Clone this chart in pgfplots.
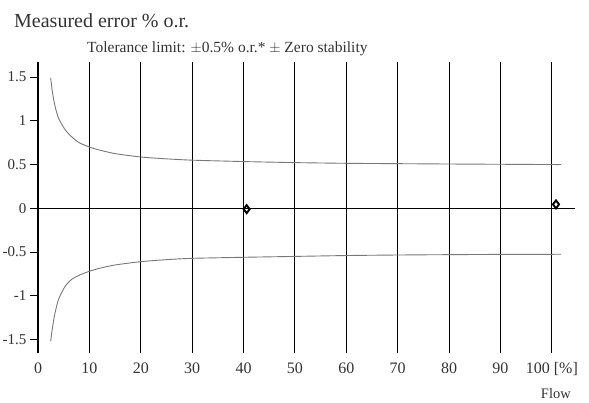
\documentclass[border=0pt]{standalone}
\usepackage{fontspec}
\setmainfont{Liberation Serif}
\usepackage{pgfplots}
\pgfplotsset{compat=1.18}
\definecolor{curvegray}{RGB}{120,120,120}
\begin{document}
\begin{tikzpicture}
\useasboundingbox (-38bp,-50bp) rectangle (551bp,353bp);
\begin{axis}[
  at={(0,0)}, anchor=south west,
  scale only axis, width=537bp, height=291bp,
  xmin=0, xmax=104.5, ymin=-1.654, ymax=1.672,
  axis lines=left, axis line style={-, line width=1.2bp},
  x axis line style={draw=none},
  xtick={0,10,...,100},
  xticklabels={0,10,20,30,40,50,60,70,80,90,100 [\%]},
  xtick style={draw=none},
  xmajorgrids, major grid style={black, line width=1bp},
  ytick={-1.5,-1,-0.5,0,0.5,1,1.5},
  yticklabels={-1.5,-1,-0.5,0,0.5,1,1.5},
  ytick style={black, line width=1bp},
  tick align=outside, major tick length=8bp,
  tick label style={font=\fontsize{15bp}{18bp}\selectfont, text=black!80},
  x tick label style={anchor=north, yshift=2bp, font=\fontsize{16bp}{18bp}\selectfont},
  clip=false,
]
\addplot[black, line width=1.2bp] coordinates {(0,0) (104.5,0)};
\addplot[curvegray, line width=0.9bp, smooth, tension=0.4] coordinates {
(2.47,1.49) (2.8,1.33) (3.3,1.17) (4,1.03) (5.25,0.90) (6.5,0.82) (8,0.75) (10,0.70)
(12,0.665) (15,0.625) (20,0.586) (25,0.565) (30,0.55) (40,0.534) (50,0.522)
(60,0.514) (70,0.51) (80,0.506) (90,0.503) (100,0.5) (101.8,0.5)};
\addplot[curvegray, line width=0.9bp, smooth, tension=0.4] coordinates {
(2.47,-1.52) (2.8,-1.37) (3.3,-1.2) (4,-1.04) (5.25,-0.895) (6.5,-0.815) (8,-0.765) (10,-0.72)
(12,-0.685) (15,-0.648) (20,-0.61) (25,-0.587) (30,-0.572) (40,-0.56) (50,-0.55)
(60,-0.54) (70,-0.534) (80,-0.53) (90,-0.527) (100,-0.526) (101.8,-0.525)};
\addplot[only marks, mark=diamond, mark size=4bp, mark options={black, line width=1.9bp, fill=white}]
  coordinates {(40.6,-0.01) (100.8,0.045)};
\end{axis}
\node[anchor=base west, text=black!80, font=\fontsize{20bp}{24bp}\selectfont, inner sep=0pt] at (-24bp,325bp) {Measured error \% o.r.};
\node[anchor=base west, text=black!80, font=\fontsize{15.5bp}{18bp}\selectfont, inner sep=0pt] at (49bp,300bp) {Tolerance limit: $\pm$0.5\% o.r.* $\pm$ Zero stability};
\node[anchor=base east, text=black!80, font=\fontsize{14.5bp}{18bp}\selectfont, inner sep=0pt] at (533bp,-45bp) {Flow};
\end{tikzpicture}
\end{document}
